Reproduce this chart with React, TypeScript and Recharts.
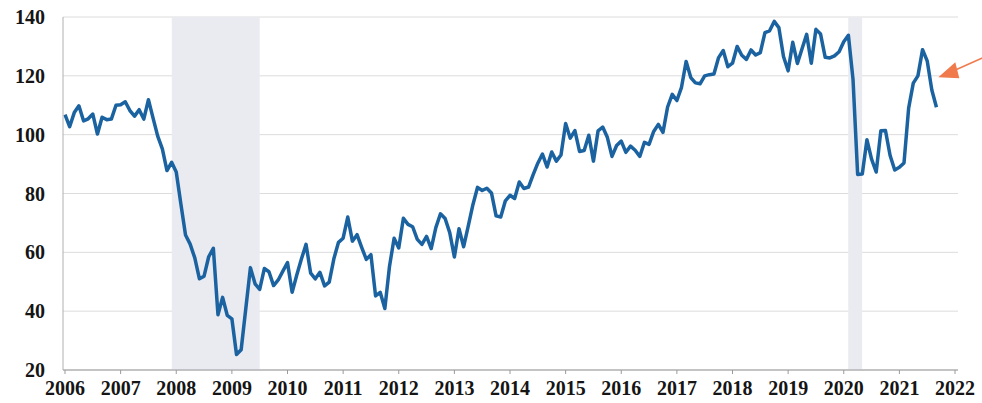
import { CartesianGrid, Line, LineChart, ReferenceArea, ReferenceDot, XAxis, YAxis } from 'recharts';

// monthly index values, Jan..Dec
const y2006 = [106.8, 102.7, 107.5, 109.8, 104.7, 105.4, 107.0, 100.2, 105.9, 105.1, 105.3, 110.0];
const y2007 = [110.2, 111.2, 108.2, 106.3, 108.5, 105.3, 111.9, 105.6, 99.5, 95.2, 87.8, 90.6];
const y2008 = [87.3, 76.4, 65.9, 62.8, 58.1, 51.0, 51.9, 58.5, 61.4, 38.8, 44.7, 38.6];
const y2009 = [37.4, 25.3, 26.9, 40.8, 54.8, 49.3, 47.4, 54.5, 53.4, 48.7, 50.6, 53.6];
const y2010 = [56.5, 46.4, 52.3, 57.7, 62.7, 52.9, 51.0, 53.2, 48.6, 49.9, 57.8, 63.4];
const y2011 = [64.8, 72.0, 63.8, 66.0, 61.7, 57.6, 59.2, 45.2, 46.4, 40.9, 55.2, 64.8];
const y2012 = [61.5, 71.6, 69.5, 68.7, 64.4, 62.7, 65.4, 61.3, 68.4, 73.1, 71.5, 66.7];
const y2013 = [58.4, 68.0, 61.9, 69.0, 76.2, 82.1, 81.0, 81.8, 80.2, 72.4, 72.0, 77.5];
const y2014 = [79.4, 78.3, 83.9, 81.7, 82.2, 86.4, 90.3, 93.4, 89.0, 94.1, 91.0, 93.1];
const y2015 = [103.8, 98.8, 101.4, 94.3, 94.6, 99.8, 91.0, 101.3, 102.6, 99.1, 92.6, 96.3];
const y2016 = [97.8, 94.0, 96.1, 94.7, 92.6, 97.4, 96.7, 101.1, 103.5, 100.8, 109.4, 113.7];
const y2017 = [111.6, 116.1, 124.9, 119.4, 117.6, 117.3, 120.0, 120.4, 120.6, 126.2, 128.6, 123.1];
const y2018 = [124.3, 130.0, 127.0, 125.6, 128.8, 127.1, 127.9, 134.7, 135.3, 138.5, 136.4, 126.6];
const y2019 = [121.7, 131.4, 124.2, 129.2, 134.1, 124.3, 135.8, 134.2, 126.3, 126.1, 126.8, 128.2];
const y2020 = [131.6, 133.8, 118.8, 86.5, 86.6, 98.3, 91.7, 87.3, 101.3, 101.4, 92.9, 88.0];
const y2021 = [88.9, 90.4, 109.0, 117.5, 120.0, 128.9, 125.1, 115.2, 109.3];

const years = [2006, 2007, 2008, 2009, 2010, 2011, 2012, 2013, 2014, 2015, 2016, 2017, 2018, 2019, 2020, 2021];
const series = [y2006, y2007, y2008, y2009, y2010, y2011, y2012, y2013, y2014, y2015, y2016, y2017, y2018, y2019, y2020, y2021];

const xTicks = [2006, 2007, 2008, 2009, 2010, 2011, 2012, 2013, 2014, 2015, 2016, 2017, 2018, 2019, 2020, 2021, 2022];
const yTicks = [20, 40, 60, 80, 100, 120, 140];
const recessions = [[2007.92, 2009.5], [2020.08, 2020.33]];
const arrowTarget = { t: 2021.7, v: 119.5 };

const data = years.flatMap((yr, i) => series[i].map((v, m) => ({ t: yr + m / 12, v })));

const tickFont = { fontFamily: 'Liberation Serif', fontWeight: 700, fontSize: 20, fill: '#151515' };

function Arrow(props: any) {
  const { cx, cy } = props;
  const c = '#f07a4c';
  return (
    <g>
      <line x1={cx + 12} y1={cy - 5} x2={cx + 50} y2={cy - 22} stroke={c} strokeWidth={1.5} />
      <polygon points={`${cx},${cy} ${cx + 17},${cy - 15} ${cx + 21},${cy + 1}`} fill={c} />
    </g>
  );
}

export default function App() {
  return (
    <div style={{ position: 'absolute', left: 0, top: 0, background: '#fff' }}>
      <LineChart width={982} height={403} data={data} margin={{ top: 17, right: 24, bottom: 0, left: 0 }}>
        {recessions.map(([a, b]) => (
          <ReferenceArea key={a} x1={a} x2={b} y1={20} y2={140} fill="#eaeaf1" fillOpacity={1} stroke="none" />
        ))}
        <CartesianGrid vertical={false} stroke="#dcdcdc" />
        <XAxis
          dataKey="t"
          type="number"
          domain={[2006, 2022]}
          ticks={xTicks}
          interval={0}
          padding={{ left: 2, right: 3 }}
          height={33}
          tick={tickFont}
          tickSize={4}
          tickMargin={7}
          stroke="#9a9a9a"
        />
        <YAxis
          domain={[20, 140]}
          ticks={yTicks}
          interval={0}
          width={63}
          tick={tickFont}
          tickSize={0}
          tickMargin={18}
          stroke="#b0b0b0"
        />
        <YAxis yAxisId="r" orientation="right" domain={[20, 140]} width={0} tick={false} tickLine={false} stroke="#b0b0b0" />
        <Line
          type="linear"
          dataKey="v"
          stroke="#1b62a0"
          strokeWidth={3.5}
          dot={false}
          strokeLinejoin="round"
          isAnimationActive={false}
        />
        <ReferenceDot x={arrowTarget.t} y={arrowTarget.v} ifOverflow="visible" shape={Arrow} />
      </LineChart>
    </div>
  );
}
